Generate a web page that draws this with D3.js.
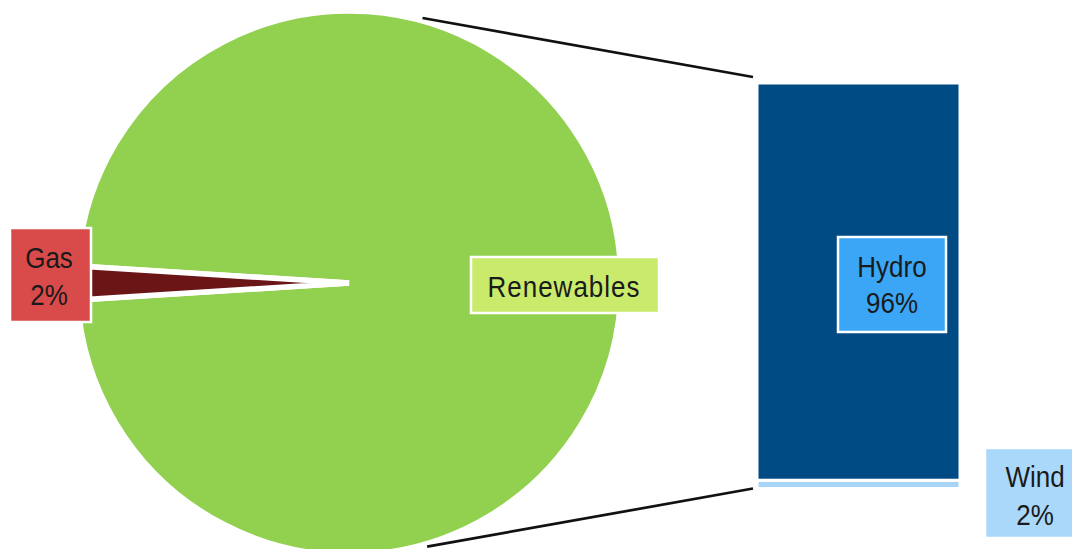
<!DOCTYPE html>
<html>
<head>
<meta charset="utf-8">
<script src="https://cdn.jsdelivr.net/npm/d3@7"></script>
<style>
  html, body { margin: 0; padding: 0; background: #ffffff; }
  svg { display: block; font-family: "Liberation Sans", Arial, sans-serif; }
</style>
</head>
<body>
<svg id="chart" width="1072" height="549"></svg>
<script>
// Energy mix: pie of sources, renewables broken out into a stacked bar
const pieCategories = ["Gas", "Renewables"];
const pieValues = [2, 98];
const barCategories = ["Wind", "Hydro"];   // stacked bottom to top
const barValues = [2, 96];

const pieColors = { Gas: "#6b1616", Renewables: "#92d050" };
const barColors = { Wind: "#a7d4f8", Hydro: "#004b84" };
const labelColors = { Gas: "#d94b4b", Renewables: "#c9ea6a", Hydro: "#3aa6f5", Wind: "#aad8fb" };

const svg = d3.select("#chart");

// ---- pie ----
const cx = 349, cy = 283, R = 272;
const total = d3.sum(pieValues);
const gasSpan = 2 * Math.PI * pieValues[0] / total;
const start = -Math.PI / 2 - gasSpan / 2;   // gas slice centred at 9 o'clock

const pie = d3.pie().sort(null).value(d => d.value)
  .startAngle(start).endAngle(start + 2 * Math.PI);
const arcs = pie(pieCategories.map((c, i) => ({ name: c, value: pieValues[i] })));
const arc = d3.arc().innerRadius(0).outerRadius(R);

const gPie = svg.append("g").attr("transform", `translate(${cx},${cy})`);
gPie.selectAll("path.slice")
  .data(arcs.slice().reverse())
  .join("path")
  .attr("class", "slice")
  .attr("d", arc)
  .attr("fill", d => pieColors[d.data.name])
  .attr("stroke", "#ffffff")
  .attr("stroke-width", 5.5)
  .attr("stroke-linejoin", "miter");

// ---- stacked bar ----
const barX0 = 757, barX1 = 960;
const barTotal = d3.sum(barValues);
const y = d3.scaleLinear().domain([0, barTotal]).range([488.5, 83]);
let acc = 0;
const segs = barCategories.map((c, i) => {
  const s = { name: c, y0: acc, y1: acc + barValues[i] };
  acc += barValues[i];
  return s;
});
svg.append("g").selectAll("rect")
  .data(segs)
  .join("rect")
  .attr("x", barX0)
  .attr("width", barX1 - barX0)
  .attr("y", d => y(d.y1))
  .attr("height", d => y(d.y0) - y(d.y1))
  .attr("fill", d => barColors[d.name])
  .attr("stroke", "#ffffff")
  .attr("stroke-width", 3);

// ---- connector lines from pie edge to bar ends ----
const deg = Math.PI / 180;
const rc = R + 3;
const connectors = [
  { a: 15.5 * deg, x2: barX0 - 4, y2: y(barTotal) - 6 },
  { a: 163.5 * deg, x2: barX0 - 4, y2: y(0) }
];
svg.append("g").selectAll("line")
  .data(connectors)
  .join("line")
  .attr("x1", d => cx + rc * Math.sin(d.a))
  .attr("y1", d => cy - rc * Math.cos(d.a))
  .attr("x2", d => d.x2)
  .attr("y2", d => d.y2)
  .attr("stroke", "#111111")
  .attr("stroke-width", 2.7);

// ---- data labels ----
const pct = v => v + "%";
const labels = [
  { key: "Gas", lines: ["Gas", pct(pieValues[0])], x: 10, y: 228, w: 81, h: 94, base: 268, gap: 37, tx: 49, ls: 0 },
  { key: "Renewables", lines: ["Renewables"], x: 471, y: 257, w: 188, h: 56, base: 297, gap: 0, tx: 564, ls: 1 },
  { key: "Hydro", lines: ["Hydro", pct(barValues[1])], x: 838, y: 237, w: 108, h: 95, base: 277, gap: 36, tx: 892, ls: 0 },
  { key: "Wind", lines: ["Wind", pct(barValues[0])], x: 985, y: 448, w: 104, h: 90, base: 487, gap: 38, tx: 1035, ls: 0 }
];
const gLab = svg.append("g");
labels.forEach(l => {
  gLab.append("rect")
    .attr("x", l.x).attr("y", l.y).attr("width", l.w).attr("height", l.h)
    .attr("fill", labelColors[l.key])
    .attr("stroke", "#ffffff").attr("stroke-width", 2.5);
  l.lines.forEach((t, i) => {
    gLab.append("text")
      .attr("transform", `translate(${l.tx},${l.base + i * l.gap}) scale(1,1.12)`)
      .attr("text-anchor", "middle")
      .attr("font-size", 26)
      .attr("letter-spacing", l.ls)
      .attr("fill", "#1a1a1a")
      .text(t);
  });
});
</script>
</body>
</html>
